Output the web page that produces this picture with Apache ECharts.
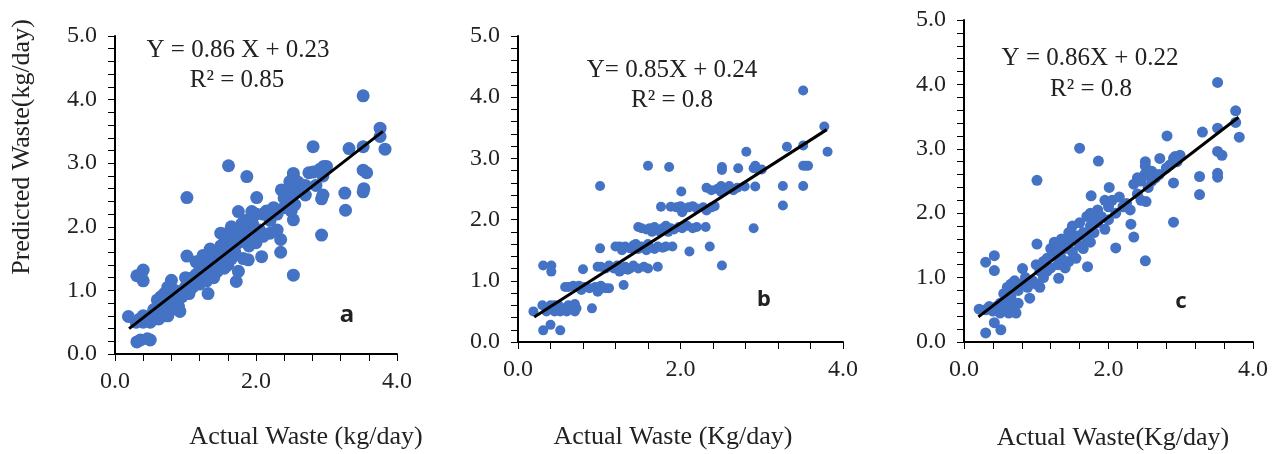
<!DOCTYPE html>
<html>
<head>
<meta charset="utf-8">
<title>Predicted vs actual waste</title>
<script src="https://cdn.jsdelivr.net/npm/echarts@6/dist/echarts.min.js"></script>
<style>
  html, body { margin: 0; padding: 0; background: #fff; }
  #wrap { position: relative; width: 1277px; height: 454px; }
  .panel { position: absolute; left: 0; top: 0; width: 1277px; height: 454px; }
</style>
</head>
<body>
<div id="wrap">
  <div id="pa" class="panel"></div>
  <div id="pb" class="panel"></div>
  <div id="pc" class="panel"></div>
</div>
<script>
// [actual, predicted] pairs
var scatterA = [
  [0.19,0.59],[0.31,0.19],[0.36,0.22],[0.50,0.22],[0.46,0.24],[0.31,1.23],[0.40,1.32],[0.40,1.15],[0.37,1.25],
  [0.80,1.16],[0.92,0.67],[1.02,1.54],[1.02,2.46],[1.32,0.95],[1.72,1.14],[1.61,2.96],[1.87,2.79],[2.01,2.46],
  [1.75,2.24],[1.94,2.24],[2.08,1.53],[1.89,1.48],[1.82,1.50],[2.35,1.60],[2.35,1.80],[2.53,1.24],[2.53,2.11],
  [2.93,1.87],[2.93,2.44],[2.95,2.50],[3.26,2.53],[3.27,2.26],[3.52,2.55],[3.53,2.60],[3.52,2.89],[3.57,2.85],
  [3.52,3.26],[3.32,3.23],[2.81,3.26],[3.52,4.06],[3.76,3.55],[3.76,3.42],[3.83,3.22],[2.81,2.86],[2.96,2.95],
  [3.00,2.95],[2.95,2.80],[2.53,2.84],[2.53,2.78],[2.48,2.71],[2.36,2.58],[2.45,2.55],[2.60,2.60],[2.65,2.55],
  [2.70,2.50],[2.55,2.35],[2.50,2.25],[2.40,2.45],[2.30,2.20],[2.25,2.30],[2.20,2.10],[2.15,2.25],[2.10,2.20],
  [2.05,1.95],[2.00,2.20],[2.00,1.90],[1.95,2.05],[1.90,1.95],[1.85,2.10],[1.85,1.80],[1.80,1.95],[1.75,1.75],
  [1.70,1.85],[1.70,1.60],[1.65,1.75],[1.65,1.50],[1.60,1.65],[1.60,1.40],[1.55,1.85],[1.55,1.55],[1.50,1.70],
  [1.50,1.45],[1.45,1.60],[1.45,1.30],[1.40,1.55],[1.40,1.20],[1.35,1.45],[1.35,1.65],[1.30,1.35],[1.30,1.50],
  [1.25,1.20],[1.25,1.40],[1.20,1.10],[1.20,1.30],[1.15,1.25],[1.10,1.05],[1.10,1.20],[1.05,0.95],[1.00,1.05],
  [1.00,1.20],[0.95,0.90],[0.90,0.95],[0.90,0.75],[0.85,1.00],[0.85,0.85],[0.80,0.70],[0.80,0.90],[0.75,0.75],
  [0.75,0.60],[0.70,0.80],[0.70,0.60],[0.65,0.90],[0.65,0.70],[0.62,0.55],[0.60,0.85],[0.60,0.65],[0.55,0.55],
  [0.55,0.70],[0.50,0.60],[0.50,0.50],[0.45,0.55],[0.40,0.50],[0.40,0.60],[0.35,0.55],[0.30,0.50],[0.70,0.95],
  [0.75,1.05],[1.50,1.90],[1.60,1.90],[1.65,2.00],[1.80,2.05],[1.90,1.70],[2.00,1.75],[2.10,1.85],[2.20,1.90],
  [2.30,1.95],[2.40,2.30],[2.50,2.45],[2.60,2.70],[2.70,2.65],[2.75,2.85],[2.85,2.65],[2.90,2.90],[1.25,1.55],
  [1.15,1.45],[1.30,1.15],[1.55,1.35],[1.75,1.30]
];
var scatterB = [
  [3.51,4.11],[3.77,3.52],[3.81,3.11],[3.51,3.21],[3.31,3.19],[2.81,3.11],[3.51,2.88],[3.57,2.88],[3.54,2.88],
  [3.51,2.55],[3.26,2.55],[3.26,2.23],[2.90,1.86],[2.51,2.81],[2.51,2.86],[2.71,2.84],[2.90,2.84],[2.95,2.82],
  [3.00,2.82],[2.92,2.88],[2.79,2.54],[2.92,2.54],[2.51,1.25],[2.36,1.56],[2.11,1.48],[2.31,1.88],[1.60,2.88],
  [1.86,2.86],[1.01,2.55],[1.76,2.21],[2.01,2.46],[1.01,1.53],[0.80,1.19],[0.91,0.55],[1.30,0.93],[0.31,1.25],
  [0.41,1.25],[0.41,1.15],[0.19,0.50],[0.31,0.19],[0.40,0.28],[0.52,0.19],
  [0.30,0.60],[0.35,0.55],[0.40,0.60],[0.45,0.50],[0.50,0.60],[0.52,0.50],[0.55,0.55],[0.60,0.50],[0.62,0.60],
  [0.65,0.55],[0.70,0.50],[0.70,0.62],[0.72,0.55],[0.45,0.60],[0.35,0.50],
  [0.58,0.90],[0.62,0.90],[0.68,0.92],[0.72,0.90],[0.78,0.85],[0.82,0.90],[0.88,0.88],[0.95,0.90],[1.00,0.85],
  [1.02,0.92],[1.08,0.88],[1.12,0.88],[0.75,0.92],[0.98,0.82],
  [0.98,1.23],[1.02,1.23],[1.08,1.20],[1.12,1.25],[1.18,1.20],[1.22,1.25],[1.28,1.18],[1.32,1.23],[1.38,1.20],
  [1.42,1.25],[1.48,1.20],[1.55,1.23],[1.60,1.20],[1.72,1.23],[1.25,1.15],[1.35,1.18],
  [1.20,1.56],[1.25,1.56],[1.28,1.50],[1.32,1.56],[1.38,1.53],[1.42,1.58],[1.48,1.52],[1.52,1.56],[1.58,1.50],
  [1.62,1.55],[1.68,1.52],[1.72,1.56],[1.78,1.54],[1.82,1.56],[1.90,1.56],[1.45,1.60],[1.60,1.60],
  [1.48,1.88],[1.52,1.86],[1.58,1.84],[1.62,1.86],[1.68,1.88],[1.72,1.84],[1.78,1.86],[1.82,1.90],[1.88,1.86],
  [1.92,1.84],[1.98,1.88],[2.02,1.86],[2.08,1.90],[2.15,1.86],[2.20,1.88],[1.65,1.80],[1.75,1.80],[1.85,1.80],
  [1.88,2.21],[1.95,2.20],[2.00,2.22],[2.02,2.12],[2.05,2.18],[2.10,2.20],[2.15,2.22],[2.20,2.18],[2.28,2.20],
  [2.32,2.15],[2.38,2.20],[2.42,2.22],
  [2.32,2.52],[2.38,2.48],[2.45,2.50],[2.50,2.55],[2.55,2.50],[2.60,2.55],[2.65,2.48],[2.70,2.52],[2.50,2.45]
];
var scatterC = [
  [3.51,4.03],[3.76,3.59],[3.76,3.41],[3.81,3.18],[3.30,3.26],[3.51,3.32],[2.81,3.20],[1.60,3.01],[1.86,2.81],
  [1.01,2.51],[3.51,2.96],[3.57,2.90],[3.51,2.62],[3.51,2.56],[3.26,2.57],[3.26,2.29],[2.90,2.47],[2.90,1.86],
  [2.51,1.26],[2.35,1.63],[2.10,1.46],[2.31,1.83],[2.01,2.40],[1.76,2.27],[2.51,2.80],[2.51,2.73],[2.71,2.85],
  [2.99,2.90],[2.92,2.88],[2.95,2.80],[1.01,1.52],[0.81,1.14],[0.91,0.68],[1.31,0.99],[1.71,1.17],[0.30,1.24],
  [0.42,1.34],[0.42,1.11],[0.21,0.51],[0.30,0.14],[0.42,0.30],[0.51,0.19],[2.52,2.18],
  [0.30,0.50],[0.35,0.55],[0.40,0.48],[0.45,0.55],[0.50,0.60],[0.50,0.45],[0.55,0.50],[0.55,0.75],[0.60,0.85],
  [0.60,0.60],[0.62,0.45],[0.65,0.90],[0.65,0.70],[0.70,0.95],[0.70,0.55],[0.72,0.45],[0.75,0.80],[0.75,0.60],
  [0.80,0.90],[0.85,1.00],[0.88,0.85],[0.95,0.95],[1.00,1.20],[1.00,0.90],[1.05,1.10],[1.05,0.85],[1.10,1.25],
  [1.10,1.00],[1.15,1.30],[1.15,1.10],[1.20,1.45],[1.20,1.15],[1.25,1.35],[1.25,1.55],[1.30,1.20],[1.30,1.50],
  [1.35,1.60],[1.35,1.30],[1.40,1.45],[1.40,1.15],[1.45,1.25],[1.45,1.55],[1.50,1.80],[1.50,1.40],[1.55,1.65],
  [1.55,1.30],[1.60,1.50],[1.60,1.85],[1.65,1.70],[1.65,1.45],[1.70,1.95],[1.70,1.60],[1.75,1.80],[1.75,1.55],
  [1.80,1.90],[1.80,1.70],[1.85,1.85],[1.85,2.05],[1.90,1.95],[1.95,1.75],[1.95,2.20],[2.00,2.10],[2.00,1.90],
  [2.05,2.20],[2.10,2.00],[2.15,2.25],[2.20,2.10],[2.25,2.15],[2.30,2.05],[2.35,2.45],[2.40,2.30],[2.45,2.50],
  [2.45,2.20],[2.50,2.60],[2.55,2.40],[2.60,2.65],[2.60,2.50],[2.65,2.55],[2.70,2.60],[2.80,2.70],[2.85,2.75],
  [2.90,2.85],[2.40,2.55],[2.55,2.60],[1.45,1.70],[1.30,1.40],[1.75,2.00]
];
// fitted line end points
var fitA = [[0.2,0.40],[3.8,3.50]];
var fitB = [[0.2,0.41],[3.8,3.47]];
var fitC = [[0.2,0.39],[3.8,3.49]];
var xTicks = [0, 2, 4];
var yTicks = [0, 1, 2, 3, 4, 5];

var serif = "'Liberation Serif', 'Times New Roman', serif";
var blue = '#4472C4';
var f25 = '25px ' + serif;
var f26 = '26px ' + serif;

function isTick(v, list) {
  for (var i = 0; i < list.length; i++) {
    if (Math.abs(v - list[i]) < 1e-6) return true;
  }
  return false;
}

function txt(s, x, y, font) {
  return {
    type: 'text', x: x, y: y,
    style: { text: s, fill: '#222', textAlign: 'center', textVerticalAlign: 'middle', font: font }
  };
}

// one chart instance per panel, stacked on top of each other
function drawPanel(id, grid, data, fit, size, texts) {
  var chart = echarts.init(document.getElementById(id));
  chart.setOption({
    animation: false,
    grid: grid,
    xAxis: {
      type: 'value', min: 0, max: 4, interval: 0.4,
      splitLine: { show: false },
      axisLine: { show: true, onZero: false, lineStyle: { color: '#000', width: 2 } },
      axisTick: { show: true, length: 7 },
      axisLabel: {
        margin: 16, fontFamily: serif, fontSize: 24, color: '#222',
        formatter: function (v) { return isTick(v, xTicks) ? v.toFixed(1) : ''; }
      }
    },
    yAxis: {
      type: 'value', min: 0, max: 5, interval: 0.2,
      splitLine: { show: false },
      axisLine: { show: true, onZero: false, lineStyle: { color: '#000', width: 2 } },
      axisTick: { show: true, length: 7 },
      axisLabel: {
        margin: 18, fontFamily: serif, fontSize: 24, color: '#222',
        formatter: function (v) { return isTick(v, yTicks) ? v.toFixed(1) : ''; }
      }
    },
    series: [
      { type: 'scatter', data: data, symbolSize: size, itemStyle: { color: blue, opacity: 1 } },
      { type: 'line', data: fit, z: 5, symbol: 'none', lineStyle: { color: '#000', width: 3 } }
    ],
    graphic: texts
  });
}

drawPanel('pa', { left: 115, top: 36, width: 282, height: 318 }, scatterA, fitA, 13, [
  txt('Y = 0.86 X + 0.23', 238, 50, f25),
  txt('R² = 0.85', 237, 80, f25),
  txt('a', 347, 315, "bold 24px 'Noto Sans', sans-serif"),
  txt('Actual Waste (kg/day)', 306, 437, f26),
  {
    type: 'text', x: 22, y: 147, rotation: Math.PI / 2,
    style: {
      text: 'Predicted Waste(kg/day)', fill: '#222', textAlign: 'center',
      textVerticalAlign: 'middle', font: f26
    }
  }
]);

drawPanel('pb', { left: 518, top: 36, width: 325, height: 306 }, scatterB, fitB, 10, [
  txt('Y= 0.85X + 0.24', 672, 70, f25),
  txt('R² = 0.8', 672, 100, f25),
  txt('b', 764, 300, "bold 22px 'Noto Sans', sans-serif"),
  txt('Actual Waste (Kg/day)', 673, 437, f26)
]);

drawPanel('pc', { left: 964, top: 20, width: 289, height: 322 }, scatterC, fitC, 11, [
  txt('Y = 0.86X + 0.22', 1090, 58, f25),
  txt('R² = 0.8', 1091, 89, f25),
  txt('c', 1181, 302, "bold 22px 'Noto Sans', sans-serif"),
  txt('Actual Waste(Kg/day)', 1113, 438, f26)
]);
</script>
</body>
</html>
